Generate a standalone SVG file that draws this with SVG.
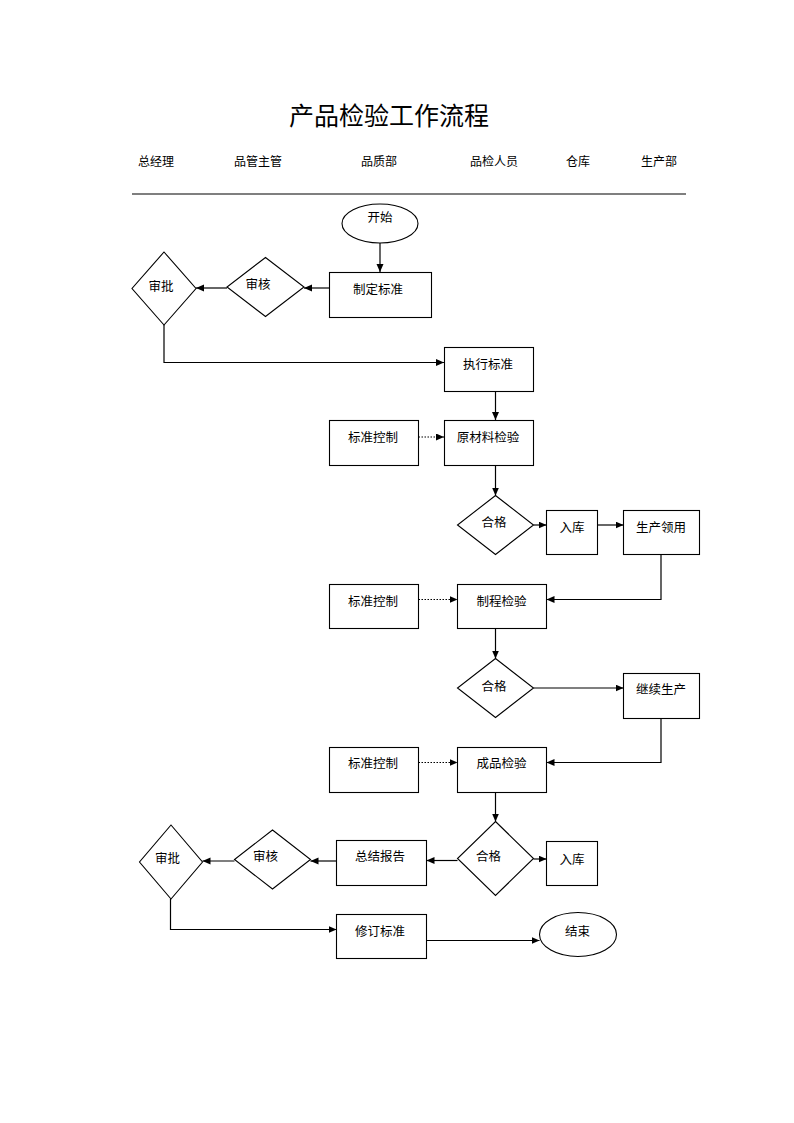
<svg xmlns="http://www.w3.org/2000/svg" width="794" height="1123" viewBox="0 0 794 1123">
<defs>
<style>
.t{font-family:"Noto Sans CJK SC","Liberation Sans",sans-serif;font-size:12.5px;fill:#000;text-anchor:middle;dominant-baseline:central}
.h{font-family:"Noto Sans CJK SC","Liberation Sans",sans-serif;font-size:12px;fill:#000;text-anchor:middle;dominant-baseline:central}
.title{font-family:"Liberation Serif","Noto Sans CJK SC",serif;font-size:25px;fill:#000;text-anchor:middle}
.s{fill:#fff;stroke:#000;stroke-width:1.1}
.c{fill:none;stroke:#000;stroke-width:1.2;marker-end:url(#arr)}
.d{fill:none;stroke:#000;stroke-width:1.2;stroke-dasharray:1.5 1.5;marker-end:url(#arr)}
</style>
<marker id="arr" markerUnits="userSpaceOnUse" markerWidth="9" markerHeight="8" refX="8" refY="3.5" orient="auto">
<path d="M0,0 L8,3.5 L0,7 z" fill="#000"/>
</marker>
</defs>
<rect width="794" height="1123" fill="#fff"/>
<text class="title" x="389" y="125">产品检验工作流程</text>
<g id="header">
<text class="h" x="156" y="160.5">总经理</text>
<text class="h" x="258" y="160.5">品管主管</text>
<text class="h" x="379" y="160.5">品质部</text>
<text class="h" x="494" y="160.5">品检人员</text>
<text class="h" x="578" y="160.5">仓库</text>
<text class="h" x="659" y="160.5">生产部</text>
<line x1="132" y1="194" x2="686" y2="194" stroke="#000" stroke-width="1.2"/>
</g>
<g id="connectors">
<path class="c" d="M380,243 V272"/>
<path class="c" d="M329,288 H304"/>
<path class="c" d="M227,288 H196"/>
<path class="c" d="M164,325 V362.5 H444"/>
<path class="c" d="M495.5,391.5 V420"/>
<path class="d" d="M418.5,437 H444"/>
<path class="c" d="M495.5,465.5 V495.5"/>
<path class="c" d="M533.5,525 H546.5"/>
<path class="c" d="M597.5,525 H623.5"/>
<path class="c" d="M661,554.5 V599.5 H546.5"/>
<path class="d" d="M418.5,599.5 H457.5"/>
<path class="c" d="M495.5,628.5 V658.5"/>
<path class="c" d="M533.5,688 H623.5"/>
<path class="c" d="M661,718.5 V762.5 H546.5"/>
<path class="d" d="M418.5,762.5 H457.5"/>
<path class="c" d="M495.5,792.5 V821.5"/>
<path class="c" d="M533.5,859 H546.5"/>
<path class="c" d="M457.5,860.5 H426.5"/>
<path class="c" d="M336.5,861 H310.5"/>
<path class="c" d="M234.5,861 H202.5"/>
<path class="c" d="M170.5,899 V929.5 H336.5"/>
<path class="c" d="M426.5,940.5 H539.5"/>
</g>
<g id="n_start"><ellipse class="s" cx="380" cy="223.5" rx="38" ry="19.5"/><text class="t" x="380" y="216.5">开始</text></g>
<g id="n_zhiding"><rect class="s" x="329.5" y="272.5" width="102" height="45"/><text class="t" x="378" y="288.5">制定标准</text></g>
<g id="n_shenhe1"><polygon class="s" points="265.5,257.5 304,287 265.5,316.5 227,287"/><text class="t" x="258" y="283.5">审核</text></g>
<g id="n_shenpi1"><polygon class="s" points="164,252 196,288.5 164,325 132,288.5"/><text class="t" x="161" y="285">审批</text></g>
<g id="n_zhixing"><rect class="s" x="444.5" y="347.5" width="89" height="44"/><text class="t" x="488" y="363.5">执行标准</text></g>
<g id="n_kz1"><rect class="s" x="329.5" y="420.5" width="89" height="45"/><text class="t" x="373" y="436">标准控制</text></g>
<g id="n_yuancailiao"><rect class="s" x="444.5" y="420.5" width="89" height="45"/><text class="t" x="488" y="436.5">原材料检验</text></g>
<g id="n_hege1"><polygon class="s" points="495.5,495.5 533.5,525 495.5,554.5 457.5,525"/><text class="t" x="494" y="521">合格</text></g>
<g id="n_ruku1"><rect class="s" x="546.5" y="510.5" width="51" height="44"/><text class="t" x="572" y="526.5">入库</text></g>
<g id="n_lingyong"><rect class="s" x="623.5" y="510.5" width="76" height="44"/><text class="t" x="661" y="526.5">生产领用</text></g>
<g id="n_kz2"><rect class="s" x="329.5" y="584.5" width="89" height="44"/><text class="t" x="373" y="600">标准控制</text></g>
<g id="n_zhicheng"><rect class="s" x="457.5" y="584.5" width="89" height="44"/><text class="t" x="501.5" y="600">制程检验</text></g>
<g id="n_hege2"><polygon class="s" points="495.5,658.5 533.5,688 495.5,717.5 457.5,688"/><text class="t" x="494" y="685">合格</text></g>
<g id="n_jixu"><rect class="s" x="623.5" y="673.5" width="76" height="45"/><text class="t" x="661" y="688.5">继续生产</text></g>
<g id="n_kz3"><rect class="s" x="329.5" y="747.5" width="89" height="45"/><text class="t" x="373" y="762.5">标准控制</text></g>
<g id="n_chengpin"><rect class="s" x="457.5" y="747.5" width="89" height="45"/><text class="t" x="501.5" y="762.5">成品检验</text></g>
<g id="n_hege3"><polygon class="s" points="495.5,821.5 533.5,858.5 495.5,895.5 457.5,858.5"/><text class="t" x="488.5" y="855">合格</text></g>
<g id="n_ruku2"><rect class="s" x="546.5" y="841.5" width="51" height="44"/><text class="t" x="572" y="858.5">入库</text></g>
<g id="n_zongjie"><rect class="s" x="336.5" y="840.5" width="90" height="45"/><text class="t" x="380" y="855.5">总结报告</text></g>
<g id="n_shenhe2"><polygon class="s" points="272.5,830 310.5,859.5 272.5,889 234.5,859.5"/><text class="t" x="265.5" y="855.5">审核</text></g>
<g id="n_shenpi2"><polygon class="s" points="171,825 202.5,862 171,899 139.5,862"/><text class="t" x="167.5" y="857">审批</text></g>
<g id="n_xiuding"><rect class="s" x="336.5" y="914.5" width="90" height="44"/><text class="t" x="380" y="930">修订标准</text></g>
<g id="n_end"><ellipse class="s" cx="578" cy="934.5" rx="38.5" ry="22"/><text class="t" x="577.5" y="930">结束</text></g>
</svg>
